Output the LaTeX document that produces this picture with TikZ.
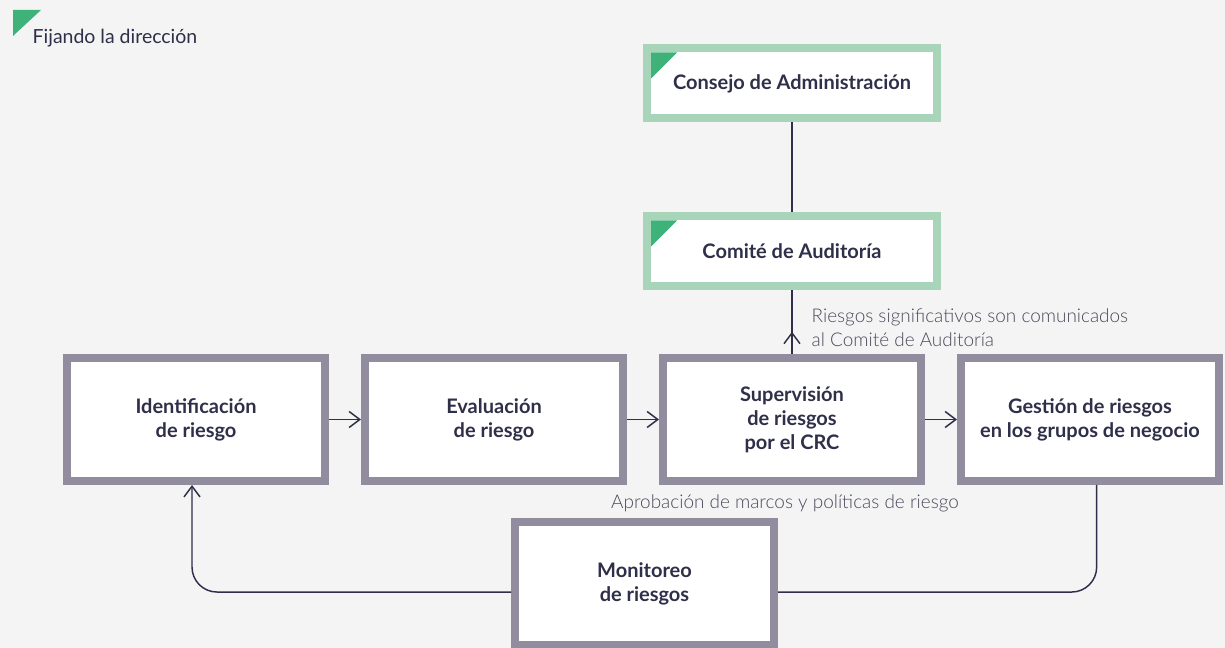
\documentclass[tikz,border=0pt]{standalone}
\usepackage{fontspec}
\setmainfont{Lato}
\newfontfamily\lightfont{Lato Light}
\usetikzlibrary{arrows.meta,positioning,decorations.markings}
\definecolor{canvas}{HTML}{F4F4F4}
\definecolor{ink}{HTML}{2F2F4A}
\definecolor{slate}{HTML}{918C9E}
\definecolor{sage}{HTML}{A8D5BA}
\definecolor{leaf}{HTML}{3FB27A}
\definecolor{note}{HTML}{4A4A5C}

\begin{document}
\begin{tikzpicture}[x=0.75pt, y=-0.75pt,
  stage/.style={draw=slate, line width=6pt, fill=white, minimum width=193.5pt, minimum height=92.25pt, align=center, font=\fontsize{15}{18}\selectfont\bfseries, text=ink},
  board/.style={draw=sage, line width=6pt, fill=white, minimum width=217.5pt, minimum height=52.5pt, align=center, font=\fontsize{15}{18}\selectfont\bfseries, text=ink},
  link/.style={draw=ink, line width=1.1pt},
  flow/.style={link, -{Straight Barb[length=8pt,width=12pt]}},
  remark/.style={font=\lightfont\fontsize{14.2}{18}\selectfont, text=note, align=left},
  node distance=24pt
]
  \useasboundingbox (0,0) rectangle (1225,648);
  \fill[canvas] (0,0) rectangle (1225,648);

  % title
  \fill[leaf] (13,10) -- (41,10) -- (13,36) -- cycle;
  \node[anchor=west, font=\fontsize{14.6}{17}\selectfont, text=ink] (title) at (28,38) {Fijando la dirección};

  % governance
  \node[board] (comite) at (792,251.5) {Comité de Auditoría};
  \node[board, above=67.5pt of comite] (consejo) {Consejo de Administración};
  \foreach \b in {consejo,comite}
    \fill[leaf] ([xshift=6pt,yshift=-6pt]\b.north west) -- ++(26,0) -- ++(-26,26) -- cycle;

  % process row
  \node[stage] (sup) at (792,419.5) {Supervisión\\de riesgos\\por el CRC};
  \node[stage, left=of sup] (eval) {Evaluación\\de riesgo};
  \node[stage, left=of eval] (ident) {Identificación\\de riesgo};
  \node[stage, right=of sup] (mgmt) {Gestión de riesgos\\en los grupos de negocio};
  \node[stage, minimum width=194.25pt] (monit) at (644.5,583.5) {Monitoreo\\de riesgos};

  % labels
  \node[remark, anchor=west] (report) at (807,328) {Riesgos significativos son comunicados\\al Comité de Auditoría};
  \node[remark] (approve) at (785,503) {Aprobación de marcos y políticas de riesgo};

  % connectors
  \draw[link] (consejo) -- (comite);
  \draw[link, postaction={decorate}, decoration={markings,
    mark=at position 0.35 with {\arrow{Straight Barb[length=8pt,width=12pt]}}}] (sup.north) -- (comite.south);
  \draw[flow] (ident) -- (eval);
  \draw[flow] (eval) -- (sup);
  \draw[flow] (sup) -- (mgmt);
  \draw[link, rounded corners=18.75pt] ([xshift=5pt]mgmt.south) |- ([yshift=-6.4pt]monit.east);
  \draw[flow, rounded corners=18.75pt] ([yshift=-6.4pt]monit.west) -| ([xshift=-3pt]ident.south);
\end{tikzpicture}
\end{document}
